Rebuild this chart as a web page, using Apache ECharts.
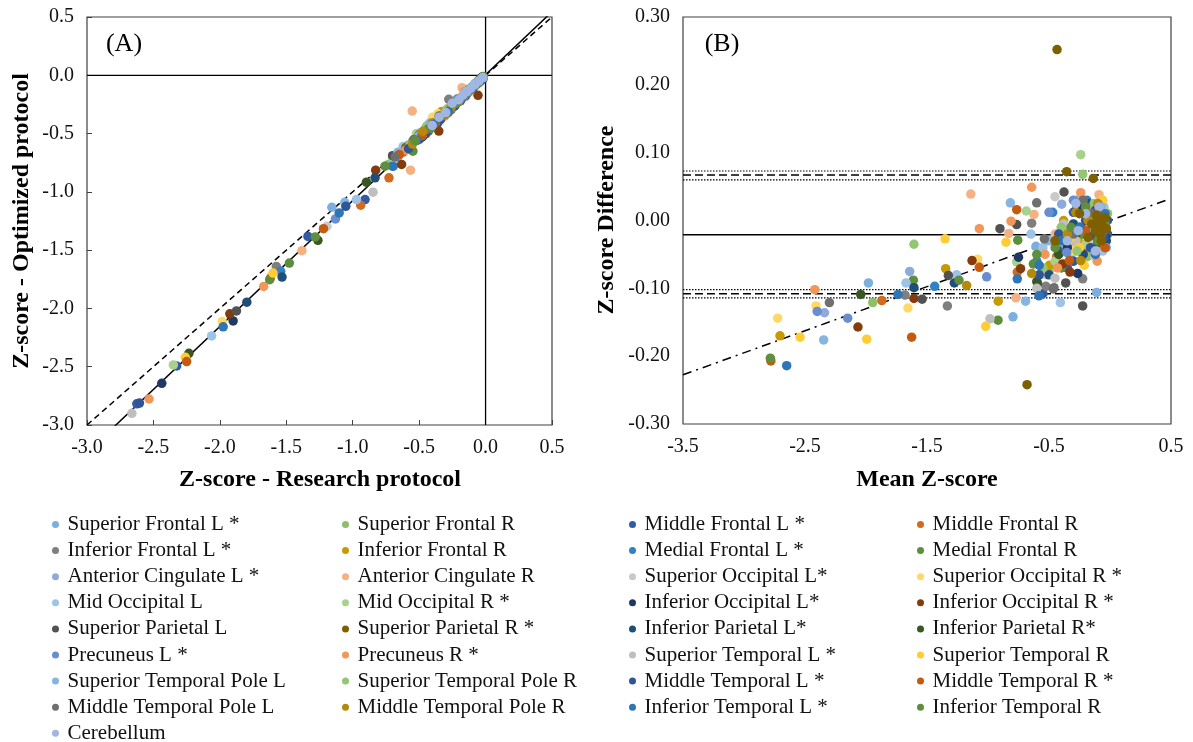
<!DOCTYPE html>
<html><head><meta charset="utf-8">
<script src="https://cdn.jsdelivr.net/npm/echarts@6/dist/echarts.min.js"></script>
<style>html,body{margin:0;padding:0;background:#fff}#c{width:1193px;height:742px}</style>
</head><body><div id="c"></div>
<script>
// ---------- DATA ----------
const seriesNames = [
  'Superior Frontal L *','Superior Frontal R','Middle Frontal L *','Middle Frontal R',
  'Inferior Frontal L *','Inferior Frontal R','Medial Frontal L *','Medial Frontal R',
  'Anterior Cingulate L *','Anterior Cingulate R','Superior Occipital L*','Superior Occipital R *',
  'Mid Occipital L','Mid Occipital R *','Inferior Occipital L*','Inferior Occipital R *',
  'Superior Parietal L','Superior Parietal R *','Inferior Parietal L*','Inferior Parietal R*',
  'Precuneus L *','Precuneus R *','Superior Temporal L *','Superior Temporal R',
  'Superior Temporal Pole L','Superior Temporal Pole R','Middle Temporal L *','Middle Temporal R *',
  'Middle Temporal Pole L','Middle Temporal Pole R','Inferior Temporal L *','Inferior Temporal R',
  'Cerebellum'
];
const seriesColors = [
  '#7CAFDD','#8CC168','#335AA6','#D26B20',
  '#7F7F7F','#C99A00','#3281C6','#5B8F3B',
  '#8EA9DB','#F4B183','#C9C9C9','#FFD966',
  '#9DC3E6','#A9D18E','#203864','#843C0C',
  '#525252','#7F6000','#1F4E79','#385723',
  '#698ED0','#F1975A','#BFBFBF','#FFCD33',
  '#85B5E0','#93C572','#2F5597','#C55A11',
  '#6F6F6F','#B58A0A','#2E75B6','#5E8E3E',
  '#A0B7E4'
];
// Panel A: [research protocol z, optimized protocol z]
const panelA = [
  [[-1.157,-1.132],[-0.49,-0.493],[-0.62,-0.64],[-0.41,-0.44],[-0.3,-0.31],[-0.22,-0.24],[-0.15,-0.16],[-0.08,-0.09],[-0.35,-0.38]],
  [[-0.58,-0.60],[-0.47,-0.50],[-0.40,-0.42],[-0.33,-0.36],[-0.26,-0.28],[-0.18,-0.19],[-0.1,-0.11],[-0.05,-0.05],[-0.52,-0.55]],
  [[-2.625,-2.818],[-2.325,-2.494],[-1.337,-1.382],[-0.907,-1.066],[-0.5,-0.55],[-0.38,-0.41],[-0.27,-0.3],[-0.14,-0.16],[-0.07,-0.07]],
  [[-1.62,-1.74],[-0.94,-1.115],[-0.727,-0.88],[-0.62,-0.66],[-0.46,-0.49],[-0.37,-0.39],[-0.28,-0.32],[-0.19,-0.21],[-0.1,-0.1]],
  [[-1.575,-1.64],[-0.697,-0.694],[-0.277,-0.206],[-0.45,-0.47],[-0.34,-0.36],[-0.2,-0.2],[-0.12,-0.13],[-0.06,-0.06],[-0.55,-0.58]],
  [[-0.42,-0.43],[-0.33,-0.31],[-0.3,-0.33],[-0.24,-0.26],[-0.17,-0.18],[-0.1,-0.1],[-0.05,-0.04],[-0.58,-0.6],[-0.02,-0.02]],
  [[-1.542,-1.682],[-0.695,-0.78],[-0.43,-0.48],[-0.36,-0.41],[-0.29,-0.31],[-0.21,-0.23],[-0.13,-0.14],[-0.06,-0.07],[-0.5,-0.53]],
  [[-1.625,-1.754],[-1.477,-1.611],[-0.547,-0.651],[-0.42,-0.46],[-0.32,-0.33],[-0.23,-0.24],[-0.15,-0.16],[-0.07,-0.08],[-0.02,-0.01]],
  [[-0.6,-0.62],[-0.45,-0.5],[-0.37,-0.38],[-0.3,-0.34],[-0.22,-0.23],[-0.15,-0.18],[-0.09,-0.1],[-0.04,-0.04],[-0.66,-0.7]],
  [[-1.382,-1.505],[-0.565,-0.814],[-0.552,-0.307],[-0.177,-0.106],[-0.42,-0.42],[-0.33,-0.37],[-0.26,-0.3],[-0.1,-0.12],[-0.05,-0.06]],
  [[-1.194,-1.296],[-0.57,-0.6],[-0.44,-0.45],[-0.35,-0.37],[-0.27,-0.28],[-0.19,-0.2],[-0.12,-0.12],[-0.05,-0.05]],
  [[-1.982,-2.113],[-0.4,-0.36],[-0.36,-0.33],[-0.31,-0.35],[-0.25,-0.27],[-0.17,-0.18],[-0.1,-0.11],[-0.04,-0.05],[-0.48,-0.5]],
  [[-2.062,-2.236],[-0.972,-1.066],[-0.62,-0.61],[-0.46,-0.47],[-0.34,-0.35],[-0.25,-0.26],[-0.16,-0.17],[-0.08,-0.08],[-0.03,-0.03]],
  [[-2.35,-2.485],[-0.52,-0.5],[-0.44,-0.43],[-0.38,-0.42],[-0.3,-0.32],[-0.21,-0.2],[-0.13,-0.12],[-0.06,-0.05],[-0.7,-0.72]],
  [[-2.437,-2.642],[-1.9,-2.107],[-0.48,-0.53],[-0.36,-0.4],[-0.26,-0.29],[-0.18,-0.2],[-0.11,-0.13],[-0.05,-0.06],[-0.02,-0.03]],
  [[-1.925,-2.046],[-0.827,-0.814],[-0.632,-0.765],[-0.352,-0.479],[-0.057,-0.172],[-0.45,-0.5],[-0.27,-0.3],[-0.19,-0.22],[-0.11,-0.13]],
  [[-1.875,-2.021],[-0.7,-0.69],[-0.52,-0.55],[-0.4,-0.42],[-0.31,-0.34],[-0.23,-0.26],[-0.15,-0.17],[-0.08,-0.08],[-0.03,-0.02]],
  [[-0.5,-0.51],[-0.42,-0.44],[-0.35,-0.36],[-0.28,-0.3],[-0.2,-0.21],[-0.13,-0.13],[-0.07,-0.07],[-0.03,-0.03],[-0.6,-0.62]],
  [[-1.797,-1.946],[-1.532,-1.731],[-0.832,-0.88],[-0.47,-0.52],[-0.37,-0.4],[-0.24,-0.27],[-0.16,-0.18],[-0.09,-0.1],[-0.04,-0.04]],
  [[-2.233,-2.385],[-1.262,-1.416],[-0.897,-0.917],[-0.527,-0.55],[-0.41,-0.43],[-0.32,-0.34],[-0.22,-0.24],[-0.12,-0.12],[-0.05,-0.05]],
  [[-1.13,-1.232],[-0.215,-0.206],[-0.55,-0.57],[-0.43,-0.45],[-0.34,-0.37],[-0.27,-0.29],[-0.14,-0.15],[-0.07,-0.07],[-0.02,-0.02]],
  [[-2.533,-2.777],[-1.67,-1.811],[-0.6,-0.64],[-0.4,-0.42],[-0.31,-0.35],[-0.23,-0.24],[-0.16,-0.14],[-0.09,-0.09],[-0.04,-0.05]],
  [[-2.662,-2.9],[-0.847,-1.003],[-0.47,-0.5],[-0.36,-0.38],[-0.28,-0.29],[-0.2,-0.22],[-0.12,-0.14],[-0.05,-0.06]],
  [[-2.26,-2.419],[-1.6,-1.697],[-0.45,-0.47],[-0.39,-0.4],[-0.32,-0.34],[-0.25,-0.26],[-0.17,-0.19],[-0.08,-0.09],[-0.03,-0.03]],
  [[-1.06,-1.09],[-0.66,-0.66],[-0.5,-0.52],[-0.42,-0.41],[-0.33,-0.35],[-0.24,-0.25],[-0.15,-0.14],[-0.08,-0.07],[-0.03,-0.03]],
  [[-0.74,-0.77],[-0.57,-0.6],[-0.45,-0.45],[-0.36,-0.39],[-0.29,-0.29],[-0.2,-0.22],[-0.12,-0.13],[-0.06,-0.06]],
  [[-2.605,-2.812],[-1.052,-1.124],[-0.58,-0.63],[-0.44,-0.48],[-0.34,-0.38],[-0.25,-0.27],[-0.17,-0.18],[-0.09,-0.1],[-0.03,-0.04]],
  [[-2.25,-2.456],[-1.22,-1.316],[-0.65,-0.68],[-0.48,-0.52],[-0.38,-0.41],[-0.29,-0.32],[-0.21,-0.23],[-0.13,-0.14],[-0.06,-0.07]],
  [[-0.68,-0.7],[-0.54,-0.55],[-0.43,-0.46],[-0.35,-0.35],[-0.26,-0.29],[-0.18,-0.2],[-0.11,-0.12],[-0.04,-0.04]],
  [[-0.47,-0.48],[-0.4,-0.41],[-0.31,-0.34],[-0.26,-0.28],[-0.19,-0.2],[-0.12,-0.12],[-0.06,-0.06],[-0.02,-0.02],[-0.55,-0.59]],
  [[-1.975,-2.158],[-1.102,-1.181],[-0.7,-0.78],[-0.52,-0.56],[-0.39,-0.42],[-0.28,-0.31],[-0.19,-0.21],[-0.1,-0.11],[-0.04,-0.05]],
  [[-1.282,-1.387],[-0.757,-0.78],[-0.53,-0.56],[-0.41,-0.45],[-0.3,-0.33],[-0.22,-0.24],[-0.14,-0.15],[-0.07,-0.08],[-0.02,-0.02]],
  [[-0.402,-0.43],[-0.3,-0.32],[-0.25,-0.24],[-0.2,-0.21],[-0.17,-0.17],[-0.14,-0.14],[-0.11,-0.11],[-0.08,-0.08],[-0.05,-0.05],[-0.02,-0.02],[-0.35,-0.36]]
];
// Panel B: [mean z, z difference]
const panelB = [
  [[-1.98,-0.092],[-0.607,-0.038],[-0.795,-0.142],[-0.109,-0.106],[-0.31,-0.02],[-0.18,0.005],[-0.08,-0.03],[-0.05,0.012]],
  [[-1.945,-0.121],[-0.068,0.028],[-0.184,-0.053],[-0.42,-0.035],[-0.28,-0.01],[-0.12,0.015],[-0.04,-0.01],[-0.5,-0.075]],
  [[-0.55,-0.108],[-0.3,0.012],[-0.15,-0.03],[-0.06,-0.002],[-0.42,-0.045],[-0.2,0.022],[-0.02,-0.02],[-0.35,-0.07]],
  [[-1.87,-0.118],[-0.76,-0.076],[-0.437,-0.053],[-0.3,-0.015],[-0.17,0.01],[-0.09,-0.035],[-0.22,-0.045],[-0.03,0.005]],
  [[-1.68,-0.11],[-1.333,-0.126],[-0.642,-0.004],[-0.525,-0.097],[-0.224,-0.086],[-0.33,-0.02],[-0.14,0.02],[-0.06,-0.015]],
  [[-2.705,-0.17],[-1.347,-0.071],[-0.916,-0.119],[-0.497,-0.066],[-0.26,-0.03],[-0.15,0.01],[-0.07,0.025],[-0.38,0.0]],
  [[-1.437,-0.097],[-0.47,0.012],[-0.36,-0.03],[-0.25,-0.01],[-0.12,-0.04],[-0.05,0.0],[-0.19,0.03],[-0.6,-0.06]],
  [[-1.612,-0.088],[-0.756,-0.029],[-0.918,-0.147],[-0.628,-0.064],[-0.4,-0.07],[-0.22,-0.02],[-0.1,0.005],[-0.03,-0.012]],
  [[-1.642,-0.075],[-2.34,-0.136],[-0.396,0.024],[-0.27,0.03],[-0.18,-0.02],[-0.09,0.01],[-0.32,-0.05],[-0.04,-0.03]],
  [[-1.141,0.039],[-0.623,0.009],[-0.83,-0.019],[-0.771,-0.114],[-0.09,0.038],[-0.3,-0.04],[-0.2,0.0],[-0.45,-0.02]],
  [[-0.451,0.035],[-0.124,-0.053],[-0.35,-0.01],[-0.22,0.015],[-0.08,-0.02],[-0.52,-0.08],[-0.16,-0.035],[-0.04,0.008]],
  [[-1.656,-0.129],[-2.41,-0.126],[-2.724,-0.144],[-1.085,-0.057],[-0.3,-0.045],[-0.18,-0.005],[-0.1,0.02],[-0.4,-0.03]],
  [[-1.672,-0.092],[-1.257,-0.08],[-0.648,-0.02],[-0.407,-0.121],[-0.55,-0.04],[-0.29,-0.015],[-0.13,0.02],[-0.06,-0.045]],
  [[-0.686,0.014],[-0.765,-0.061],[-0.24,0.097],[-0.35,-0.02],[-0.2,-0.035],[-0.11,0.0],[-0.05,0.018],[-0.45,-0.06]],
  [[-0.75,-0.054],[-0.27,0.021],[-0.23,0.017],[-0.265,-0.078],[-0.15,-0.01],[-0.08,-0.005],[-0.35,-0.04],[-0.04,-0.025]],
  [[-1.607,-0.115],[-2.066,-0.157],[-0.733,-0.071],[-1.131,-0.059],[-0.388,-0.064],[-0.328,-0.076],[-0.2,-0.01],[-0.1,-0.03],[-0.05,0.005]],
  [[-1.54,-0.116],[-1.325,-0.081],[-0.902,-0.012],[-0.377,0.042],[-0.765,-0.006],[-0.593,-0.093],[-0.363,-0.092],[-0.224,-0.126],[-0.15,-0.02],[-0.06,0.0]],
  [[-0.434,0.252],[-0.68,-0.242],[-0.355,0.072],[-0.137,0.062],[-0.15,-0.005],[-0.12,-0.015],[-0.1,0.0],[-0.08,-0.02],[-0.06,-0.008],[-0.04,0.004],[-0.11,0.008],[-0.07,-0.03],[-0.03,-0.012],[-0.18,-0.025],[-0.45,-0.03],[-0.25,0.01],[-0.09,-0.01]],
  [[-1.607,-0.099],[-1.276,-0.092],[-0.5,-0.08],[-0.3,-0.005],[-0.18,0.025],[-0.09,-0.015],[-0.03,-0.03],[-0.22,-0.05]],
  [[-2.043,-0.109],[-0.42,-0.05],[-0.28,-0.02],[-0.16,0.0],[-0.07,0.015],[-0.6,-0.09],[-0.12,-0.04],[-0.03,0.0]],
  [[-2.15,-0.144],[-2.40,-0.134],[-1.011,-0.083],[-0.355,-0.047],[-0.3,0.03],[-0.17,0.01],[-0.08,-0.02],[-0.5,0.012]],
  [[-2.42,-0.102],[-1.071,-0.012],[-0.642,0.049],[-0.811,-0.001],[-0.533,-0.05],[-0.24,0.041],[-0.105,-0.06],[-0.43,-0.07],[-0.15,0.015]],
  [[-0.984,-0.145],[-0.451,-0.085],[-0.28,-0.03],[-0.2,0.008],[-0.11,-0.045],[-0.05,0.02],[-0.38,-0.005],[-0.6,-0.1]],
  [[-1.994,-0.175],[-2.54,-0.172],[-1.352,-0.027],[-0.852,-0.032],[-1.019,-0.156],[-0.211,-0.066],[-0.32,-0.025],[-0.14,0.01],[-0.06,0.03],[-0.25,-0.04]],
  [[-2.347,-0.176],[-0.817,0.026],[-0.692,-0.119],[-0.5,-0.03],[-0.3,-0.06],[-0.17,-0.01],[-0.07,0.02],[-0.03,-0.04]],
  [[-1.607,-0.035],[-0.224,0.068],[-0.4,-0.01],[-0.27,-0.045],[-0.13,0.025],[-0.06,-0.02],[-0.55,-0.07],[-0.02,0.01]],
  [[-0.58,-0.08],[-0.42,-0.02],[-0.3,-0.06],[-0.2,0.0],[-0.12,0.015],[-0.05,-0.025],[-0.16,-0.04],[-0.02,0.0]],
  [[-1.626,-0.172],[-2.78,-0.207],[-1.071,-0.069],[-0.765,0.016],[-0.333,-0.059],[-0.2,-0.015],[-0.1,0.01],[-0.04,-0.04]],
  [[-2.30,-0.121],[-0.601,0.026],[-0.538,-0.027],[-0.465,-0.101],[-0.459,-0.099],[-0.3,-0.02],[-0.15,0.01],[-0.07,-0.02],[-0.22,0.03]],
  [[-1.175,-0.096],[-0.642,-0.078],[-0.24,-0.059],[-0.35,-0.02],[-0.18,0.0],[-0.1,0.025],[-0.05,-0.01],[-0.28,0.012]],
  [[-1.738,-0.109],[-2.65,-0.214],[-0.76,-0.086],[-0.582,-0.111],[-0.58,-0.066],[-0.4,-0.03],[-0.25,-0.01],[-0.12,-0.05],[-0.04,0.01]],
  [[-2.784,-0.203],[-1.238,-0.088],[-0.45,-0.04],[-0.32,-0.01],[-0.2,0.02],[-0.1,-0.03],[-0.04,-0.005],[-0.6,-0.05]],
  [[-0.35,-0.03],[-0.26,-0.015],[-0.2,0.01],[-0.14,-0.005],[-0.09,0.02],[-0.05,-0.01],[-0.12,-0.045],[-0.28,0.025]]
];
// Reference lines
const fitASlope = 1.08, fitAIntercept = 0.005;
const meanDiff = -0.021;
const loaUpper = 0.067, loaUpperCI = [0.060, 0.073];
const loaLower = -0.108, loaLowerCI = [-0.114, -0.102];
const fitBSlope = 0.065, fitBIntercept = 0.0, fitBRange = [-3.5, 0.46];
const axisA = {min: -3, max: 0.5, interval: 0.5};
const axisBx = {min: -3.5, max: 0.5, interval: 1};
const axisBy = {min: -0.3, max: 0.3, interval: 0.1};

// ---------- CHART ----------
const FONT = '"Liberation Serif","Times New Roman",serif';
const chart = echarts.init(document.getElementById('c'), null, {renderer: 'canvas'});

function valAxis(gi, r, digits, ticks) {
  return {
    type: 'value', gridIndex: gi, min: r.min, max: r.max, interval: r.interval,
    axisLine: {show: false, onZero: false},
    axisTick: {show: ticks, inside: true, length: 5, lineStyle: {color: '#404040'}},
    splitLine: {show: false},
    axisLabel: {fontFamily: FONT, fontSize: 20, color: '#111', margin: 13,
      showMinLabel: true, showMaxLabel: true,
      formatter: v => v.toFixed(digits)}
  };
}

const series = [];
function lineS(gi, data, color, width, type) {
  series.push({type: 'line', xAxisIndex: gi, yAxisIndex: gi, data: data, symbol: 'none',
    silent: true, animation: false, z: 1, clip: true,
    lineStyle: {color: color, width: width, type: type}});
}
// Panel A lines
lineS(0, [[0, axisA.min], [0, axisA.max]], '#000', 1.3, 'solid');
lineS(0, [[axisA.min, 0], [axisA.max, 0]], '#000', 1.3, 'solid');
lineS(0, [[axisA.min, axisA.min], [axisA.max, axisA.max]], '#000', 1.5, [6, 4]);
lineS(0, [[axisA.min, fitASlope * axisA.min + fitAIntercept], [axisA.max, fitASlope * axisA.max + fitAIntercept]], '#000', 1.5, 'solid');
// Panel B lines
const bx = [axisBx.min, axisBx.max];
lineS(1, bx.map(x => [x, meanDiff]), '#000', 1.6, 'solid');
lineS(1, bx.map(x => [x, loaUpper]), '#000', 1.5, [8, 4]);
lineS(1, bx.map(x => [x, loaLower]), '#000', 1.5, [8, 4]);
loaUpperCI.concat(loaLowerCI).forEach(v => lineS(1, bx.map(x => [x, v]), '#000', 1.2, [1.5, 1.5]));
lineS(1, fitBRange.map(x => [x, fitBSlope * x + fitBIntercept]), '#000', 1.5, [9, 5, 2, 5]);

seriesNames.forEach((n, i) => {
  series.push({type: 'scatter', name: n, xAxisIndex: 0, yAxisIndex: 0, data: panelA[i],
    symbolSize: 9.5, itemStyle: {color: seriesColors[i], opacity: 1}, z: 2, animation: false});
});
seriesNames.forEach((n, i) => {
  series.push({type: 'scatter', name: n, xAxisIndex: 1, yAxisIndex: 1, data: panelB[i],
    symbolSize: 9.5, itemStyle: {color: seriesColors[i], opacity: 1}, z: (i === 17 ? 3 : 2), animation: false});
});

// one legend component per item, laid out in 4 columns (row-major order)
const legendLefts = [52, 342, 629, 917];
const legendTop0 = 514, legendRowStep = 26.1;
const legends = seriesNames.map((n, i) => ({
  orient: 'vertical', left: legendLefts[i % 4], top: legendTop0 + Math.floor(i / 4) * legendRowStep,
  padding: 0, itemWidth: 14, itemHeight: 7, icon: 'circle', selectedMode: false,
  textStyle: {fontFamily: FONT, fontSize: 21, color: '#111', lineHeight: 20},
  data: [n]
}));

function txt(x, y, s, size, bold, rot) {
  return {type: 'text', x: x, y: y, rotation: rot || 0, silent: true, z: 10,
    style: {text: s, fontFamily: FONT, fontSize: size, fontWeight: bold ? 'bold' : 'normal',
      fill: '#000', textAlign: 'center', textVerticalAlign: 'middle'}};
}

chart.setOption({
  animation: false,
  backgroundColor: '#fff',
  grid: [
    {left: 87, top: 17, width: 465, height: 408, show: true, borderColor: '#404040', borderWidth: 1.2, backgroundColor: 'transparent', containLabel: false, outerBoundsMode: 'none'},
    {left: 683, top: 17, width: 488, height: 407, show: true, borderColor: '#404040', borderWidth: 1.2, backgroundColor: 'transparent', containLabel: false, outerBoundsMode: 'none'}
  ],
  xAxis: [valAxis(0, axisA, 1, true), valAxis(1, axisBx, 1, false)],
  yAxis: [valAxis(0, axisA, 1, true), valAxis(1, axisBy, 2, false)],
  legend: legends,
  graphic: [
    txt(124, 44, '(A)', 26, false),
    txt(722, 44, '(B)', 26, false),
    txt(320, 480, 'Z-score - Research protocol', 24, true),
    txt(22, 221, 'Z-score - Optimized protocol', 24, true, Math.PI / 2),
    txt(927, 480, 'Mean Z-score', 24, true),
    txt(607, 220, 'Z-score Difference', 24, true, Math.PI / 2)
  ],
  series: series
});
</script></body></html>
